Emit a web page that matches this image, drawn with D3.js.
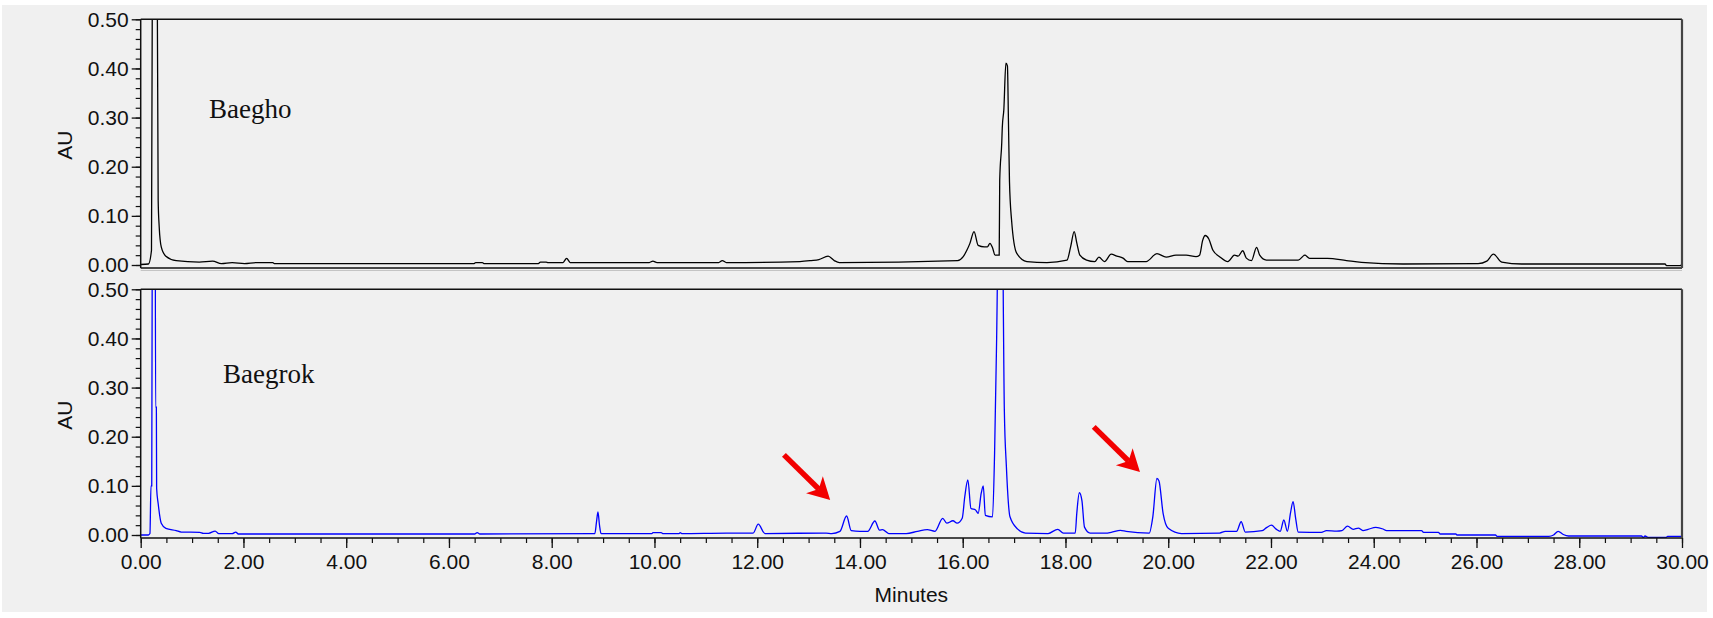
<!DOCTYPE html>
<html>
<head>
<meta charset="utf-8">
<script src="https://cdn.jsdelivr.net/npm/d3@7/dist/d3.min.js"></script>
<style>
  html, body { margin: 0; padding: 0; background: #ffffff; }
  svg { display: block; }
</style>
</head>
<body>
<svg id="chart" width="1713" height="618"></svg>
<script>
// ---------- DATA ----------
const xTickValues = [0, 2, 4, 6, 8, 10, 12, 14, 16, 18, 20, 22, 24, 26, 28, 30];
const yTickValues = [0, 0.1, 0.2, 0.3, 0.4, 0.5];
const panelLabels = ["Baegho", "Baegrok"];

const baeghoTime = [0.00,0.15,0.21,0.235,0.27,0.31,0.34,0.36,0.40,0.49,0.69,1.14,1.40,1.57,1.78,2.02,2.25,2.57,2.60,6.49,6.52,6.65,6.68,7.74,7.78,7.89,7.93,8.22,8.29,8.36,8.80,9.90,9.97,10.05,11.25,11.32,11.40,12.83,13.05,13.20,13.38,13.50,13.60,15.90,16.01,16.08,16.14,16.22,16.30,16.42,16.48,16.53,16.58,16.63,16.71,16.72,16.76,16.77,16.80,16.84,16.87,16.89,16.91,16.95,17.05,17.25,17.64,18.03,18.10,18.17,18.22,18.28,18.41,18.57,18.65,18.76,18.89,19.00,19.12,19.21,19.57,19.78,19.96,20.15,20.35,20.54,20.61,20.67,20.72,20.79,20.87,21.00,21.16,21.29,21.36,21.45,21.52,21.62,21.72,21.78,21.91,22.53,22.66,22.75,23.10,23.47,23.76,24.57,26.03,26.20,26.33,26.49,26.88,29.67,29.70,29.97,30.00];
const baeghoAU   = [0.001,0.002,0.03,0.9,1.2,0.9,0.132,0.078,0.037,0.018,0.009,0.006,0.008,0.003,0.005,0.003,0.005,0.005,0.003,0.003,0.005,0.005,0.003,0.003,0.006,0.006,0.005,0.005,0.0136,0.005,0.005,0.005,0.008,0.005,0.005,0.009,0.005,0.007,0.009,0.011,0.018,0.009,0.005,0.009,0.017,0.03,0.044,0.068,0.040,0.037,0.037,0.044,0.035,0.02,0.02,0.173,0.25,0.28,0.316,0.411,0.405,0.292,0.17,0.092,0.024,0.007,0.005,0.01,0.037,0.068,0.045,0.02,0.01,0.007,0.016,0.007,0.022,0.018,0.014,0.007,0.007,0.023,0.016,0.020,0.020,0.017,0.020,0.050,0.060,0.053,0.030,0.017,0.007,0.020,0.018,0.029,0.014,0.009,0.036,0.020,0.010,0.010,0.020,0.0136,0.0136,0.009,0.0055,0.002,0.003,0.008,0.022,0.006,0.002,0.002,-0.0013,-0.0013,0.003];

const baegrokTime = [0.00,0.15,0.18,0.20,0.215,0.23,0.26,0.28,0.29,0.305,0.31,0.34,0.40,0.49,0.69,0.79,1.15,1.22,1.32,1.45,1.52,1.78,1.85,1.90,6.50,6.55,6.60,8.84,8.87,8.90,8.93,8.96,9.95,9.97,10.13,10.16,10.48,10.50,10.53,11.40,11.50,11.92,12.02,12.15,13.34,13.45,13.61,13.74,13.83,14.00,14.15,14.29,14.38,14.44,14.56,14.90,15.12,15.31,15.46,15.61,15.69,15.81,15.89,15.99,16.04,16.10,16.16,16.25,16.30,16.36,16.40,16.44,16.58,16.62,16.66,16.71,16.76,16.81,16.85,16.92,17.07,17.22,17.66,17.85,17.96,18.19,18.22,18.27,18.32,18.37,18.48,18.78,18.89,19.07,19.18,19.63,19.70,19.78,19.82,19.90,20.00,20.26,21.00,21.11,21.33,21.42,21.50,21.83,21.92,22.01,22.10,22.18,22.25,22.32,22.38,22.43,22.48,22.53,22.98,23.08,23.28,23.38,23.49,23.60,23.70,23.79,23.89,24.04,24.18,24.25,24.93,24.97,25.26,25.29,25.60,25.62,26.37,26.40,27.41,27.50,27.59,27.69,27.79,29.21,29.25,29.28,29.35,29.69,29.72,30.00];
const baegrokAU   = [0.000,0.000,0.003,0.1,0.1,0.9,1.3,0.9,0.26,0.26,0.095,0.064,0.024,0.0136,0.009,0.006,0.0054,0.0034,0.0034,0.008,0.0027,0.0027,0.006,0.002,0.002,0.005,0.002,0.003,0.025,0.047,0.02,0.003,0.003,0.005,0.005,0.003,0.003,0.005,0.003,0.004,0.004,0.004,0.022,0.003,0.004,0.003,0.0075,0.0387,0.009,0.0075,0.0075,0.0285,0.010,0.011,0.003,0.003,0.0075,0.011,0.0075,0.034,0.024,0.029,0.024,0.034,0.078,0.112,0.054,0.051,0.044,0.085,0.10,0.04,0.037,0.166,0.40,0.75,0.75,0.254,0.139,0.037,0.012,0.004,0.003,0.0116,0.004,0.004,0.044,0.086,0.070,0.016,0.004,0.004,0.0055,0.0095,0.0075,0.004,0.037,0.115,0.11,0.044,0.0136,0.003,0.004,0.0075,0.0075,0.027,0.006,0.0088,0.0155,0.020,0.012,0.0075,0.0305,0.0075,0.045,0.068,0.034,0.006,0.0054,0.009,0.008,0.009,0.018,0.0115,0.014,0.009,0.0115,0.0156,0.0122,0.0088,0.0088,0.0054,0.0054,0.002,0.002,0.0,0.0,-0.0027,-0.0027,0.0,0.0075,0.001,-0.002,-0.002,-0.005,-0.002,-0.005,-0.005,-0.0027,-0.0027];

// red arrow annotations on the lower chromatogram (tail -> tip, in minutes / AU)
const arrowTailTime = [12.52, 18.55];
const arrowTailAU   = [0.163, 0.220];
const arrowTipTime  = [13.42, 19.45];
const arrowTipAU    = [0.071, 0.128];

// ---------- LAYOUT ----------
const svg = d3.select("#chart");
const W = 1713, H = 618;
const left = 140.7, right = 1682;
const panels = [
  { top: 19.3, zero: 265, frameBottom: 268, color: "#000000", time: baeghoTime, au: baeghoAU, label: panelLabels[0], labelX: 209, labelY: 118 },
  { top: 289.3, zero: 535, frameBottom: 538, color: "#0000ff", time: baegrokTime, au: baegrokAU, label: panelLabels[1], labelX: 223, labelY: 383 }
];
const tickFont = "'Liberation Sans', Arial, sans-serif";
const serifFont = "'Liberation Serif', 'Times New Roman', serif";

// background
svg.append("rect").attr("x", 0).attr("y", 0).attr("width", W).attr("height", H).attr("fill", "#ffffff");
svg.append("rect").attr("x", 2).attr("y", 5).attr("width", 1705).attr("height", 607).attr("fill", "#f0f0f0");

const x = d3.scaleLinear().domain([0, 30]).range([left, right]);

panels.forEach((p, i) => {
  const y = d3.scaleLinear().domain([0, 0.5]).range([p.zero, p.top]);
  const g = svg.append("g");

  // clip
  const clipId = "clip" + i;
  svg.append("clipPath").attr("id", clipId).append("rect")
    .attr("x", left).attr("y", p.top).attr("width", right - left).attr("height", p.frameBottom - p.top);

  // trace
  const pts = p.time.map((t, k) => [t, p.au[k]]);
  const line = d3.line().x(d => x(d[0])).y(d => y(d[1])).curve(d3.curveMonotoneX);
  g.append("path").datum(pts)
    .attr("clip-path", "url(#" + clipId + ")")
    .attr("fill", "none").attr("stroke", p.color).attr("stroke-width", 1.3)
    .attr("d", line);

  // frame
  g.append("line").attr("x1", left).attr("x2", right).attr("y1", p.top).attr("y2", p.top)
    .attr("stroke", "#111").attr("stroke-width", 1.6);
  g.append("line").attr("x1", left).attr("x2", right).attr("y1", p.frameBottom).attr("y2", p.frameBottom)
    .attr("stroke", "#111").attr("stroke-width", 1.5);
  g.append("line").attr("x1", right).attr("x2", right).attr("y1", p.top).attr("y2", p.frameBottom)
    .attr("stroke", "#444").attr("stroke-width", 2.2);
  g.append("line").attr("x1", left).attr("x2", left).attr("y1", p.top).attr("y2", p.frameBottom)
    .attr("stroke", "#111").attr("stroke-width", 1.5);

  // y axis minor ticks
  const minorVals = d3.range(0, 0.5001, 0.02).map(v => +v.toFixed(2));
  const yMinor = d3.axisLeft(y).tickValues(minorVals).tickSize(5).tickFormat("");
  g.append("g").attr("transform", `translate(${left},0)`).call(yMinor)
    .call(s => s.select(".domain").remove())
    .call(s => s.selectAll("line").attr("stroke", "#111").attr("stroke-width", 1.2));

  // y axis major ticks
  const yMajor = d3.axisLeft(y).tickValues(yTickValues).tickSize(9).tickPadding(3).tickFormat(d3.format(".2f"));
  g.append("g").attr("transform", `translate(${left},0)`).call(yMajor)
    .call(s => s.select(".domain").remove())
    .call(s => s.selectAll("line").attr("stroke", "#111").attr("stroke-width", 1.3))
    .call(s => s.selectAll("text").attr("font-family", tickFont).attr("font-size", 21).attr("fill", "#111"));

  // AU label
  svg.append("text")
    .attr("transform", `translate(72,${(p.top + p.zero) / 2 + 3}) rotate(-90)`)
    .attr("text-anchor", "middle")
    .attr("font-family", tickFont).attr("font-size", 21).attr("fill", "#111")
    .text("AU");

  // sample label
  svg.append("text")
    .attr("x", p.labelX).attr("y", p.labelY)
    .attr("font-family", serifFont).attr("font-size", 27).attr("fill", "#111")
    .text(p.label);
});

// faint separator under upper panel
svg.append("line").attr("x1", left).attr("x2", right).attr("y1", 270.5).attr("y2", 270.5)
  .attr("stroke", "#c4c4c4").attr("stroke-width", 1);

// x axis (bottom)
const axisY = 538;
const xMinorVals = d3.range(0, 30.001, 0.5);
svg.append("g").attr("transform", `translate(0,${axisY})`)
  .call(d3.axisBottom(x).tickValues(xMinorVals).tickSize(5).tickFormat(""))
  .call(s => s.select(".domain").remove())
  .call(s => s.selectAll("line").attr("stroke", "#111").attr("stroke-width", 1.2));
svg.append("g").attr("transform", `translate(0,${axisY})`)
  .call(d3.axisBottom(x).tickValues(xTickValues).tickSize(10).tickPadding(6).tickFormat(d3.format(".2f")))
  .call(s => s.select(".domain").remove())
  .call(s => s.selectAll("line").attr("stroke", "#111").attr("stroke-width", 1.3))
  .call(s => s.selectAll("text").attr("font-family", tickFont).attr("font-size", 21).attr("fill", "#111"));

svg.append("text")
  .attr("x", (left + right) / 2).attr("y", 602)
  .attr("text-anchor", "middle")
  .attr("font-family", tickFont).attr("font-size", 21).attr("fill", "#111")
  .text("Minutes");

// red arrows
const yB = d3.scaleLinear().domain([0, 0.5]).range([panels[1].zero, panels[1].top]);
arrowTipTime.forEach((tt, i) => {
  const x0 = x(arrowTailTime[i]), y0 = yB(arrowTailAU[i]);
  const x1 = x(tt), y1 = yB(arrowTipAU[i]);
  const dx = x1 - x0, dy = y1 - y0, L = Math.hypot(dx, dy);
  const ux = dx / L, uy = dy / L, nx = -uy, ny = ux;
  const headLen = 22, headHalf = 12, notch = 16;
  const bx = x1 - ux * headLen, by = y1 - uy * headLen;
  svg.append("line")
    .attr("x1", x0).attr("y1", y0)
    .attr("x2", x1 - ux * notch).attr("y2", y1 - uy * notch)
    .attr("stroke", "#f20000").attr("stroke-width", 5.5);
  const head = [
    [x1, y1],
    [bx + nx * headHalf, by + ny * headHalf],
    [x1 - ux * notch, y1 - uy * notch],
    [bx - nx * headHalf, by - ny * headHalf]
  ];
  svg.append("path")
    .attr("d", "M" + head.map(p => p.join(",")).join("L") + "Z")
    .attr("fill", "#f20000");
});
</script>
</body>
</html>
